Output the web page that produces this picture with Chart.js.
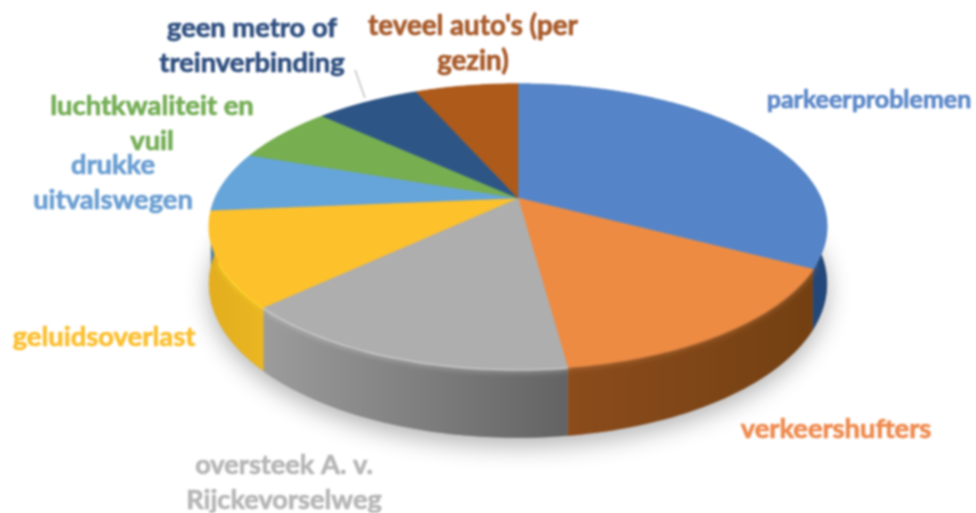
<!DOCTYPE html>
<html><head><meta charset="utf-8">
<style>html,body{margin:0;padding:0;background:#fff;overflow:hidden}canvas{display:block;filter:blur(0.8px)}</style>
<script src="https://cdn.jsdelivr.net/npm/chart.js@4"></script>
</head><body><canvas id="c" width="976" height="513"></canvas>
<script>
const categories = ["parkeerproblemen","verkeershufters","oversteek A. v. Rijckevorselweg","geluidsoverlast","drukke uitvalswegen","luchtkwaliteit en vuil","geen metro of treinverbinding","teveel auto's (per gezin)"];
const shares = [32.8,15.1,15.0,10.7,6.8,6.5,6.6,6.5];
const faceColors = ["#5585c8","#ee8b43","#aeaeae","#fdc12b","#66a5da","#76ae50","#2d5687","#ad5a1b"];
const wallLeft = ["#2a5288","#8c4c1c","#9c9c9c","#e3ae1f","#4d7ea8","#5a8a3e","#24466e","#8a4716"];
const wallRight = ["#24477a","#734012","#636363","#eab622","#4d7ea8","#5a8a3e","#24466e","#8a4716"];
const rimColors = ["#3f6aa5","#b8703a","#cfcfcf","#ffd62e","#66a5da","#76ae50","#2d5687","#ad5a1b"];
const labelLines = [["parkeerproblemen"],["verkeershufters"],["oversteek A. v.","Rijckevorselweg"],["geluidsoverlast"],["drukke","uitvalswegen"],["luchtkwaliteit en","vuil"],["geen metro of","treinverbinding"],["teveel auto's (per","gezin)"]];
const labelColors = ["#5b87c8","#ee8a4e","#b6b6b6","#fbbf2f","#6a9ed2","#74ad55","#2f4f80","#a85a2a"];
const labelSizes = [25,27.3,27.2,27.4,27.3,27.4,27.3,27.7];
const labelAnchors = [[869,100],[836,429],[284,465],[104,337],[113,165],[152,106],[252,28],[473,26]];
const labelLineHeight = 35;
const leaderLine = [[355,70],[365,98]];

const P = 0.199, SX = 1.53, SY = 0.692, DEPTH = 0.278;
const pieStyle = {
  id:'pieStyle',
  beforeDatasetDraw(){ return false; },
  afterDatasetsDraw(chart){
    const ctx = chart.ctx, arcs = chart.getDatasetMeta(0).data;
    const a0 = arcs[0], R = a0.outerRadius, cx = a0.x, cy = a0.y;
    const proj = (a,d) => {
      const x=Math.cos(a), y=Math.sin(a), s=1/(1-P*y);
      return [cx+R*SX*x*s, cy+R*SY*y*s+(d?R*DEPTH*s:0)];
    };
    const trace = (from,to,d,first) => {
      const n=Math.max(2,Math.ceil(Math.abs(to-from)/0.02));
      for(let i=0;i<=n;i++){
        const p=proj(from+(to-from)*i/n,d);
        (i===0&&first)?ctx.moveTo(p[0],p[1]):ctx.lineTo(p[0],p[1]);
      }
    };
    ctx.save();
    // soft ground shadow
    ctx.save();
    ctx.shadowColor='rgba(0,0,0,0.3)';ctx.shadowBlur=24;ctx.shadowOffsetY=8;ctx.fillStyle='#999';
    ctx.beginPath();trace(0,Math.PI*2,true,true);ctx.closePath();ctx.fill();
    ctx.restore();
    // walls
    arcs.forEach((arc,i)=>{
      const a=arc.startAngle,b=arc.endAngle;
      const p1=proj(a,true),p2=proj(b,true);
      const g=ctx.createLinearGradient(Math.min(p1[0],p2[0]),0,Math.max(p1[0],p2[0])+0.01,0);
      g.addColorStop(0,wallLeft[i]);g.addColorStop(1,wallRight[i]);
      ctx.fillStyle=g;
      ctx.beginPath();trace(a,b,false,true);trace(b,a,true,false);ctx.closePath();ctx.fill();
    });
    // soft rims on the near side only
    arcs.forEach((arc,i)=>{
      const n=Math.ceil((arc.endAngle-arc.startAngle)/0.02);
      ctx.save();
      ctx.shadowColor=rimColors[i];ctx.shadowBlur=6;ctx.strokeStyle=rimColors[i];ctx.lineWidth=3;
      ctx.beginPath();
      for(let k=0,on=false;k<=n;k++){
        const a=arc.startAngle+(arc.endAngle-arc.startAngle)*k/n;
        if(Math.sin(a)<0.42) continue;
        const p=proj(a,false);
        on?ctx.lineTo(p[0],p[1]):ctx.moveTo(p[0],p[1]);on=true;
      }
      ctx.stroke();
      ctx.restore();
    });
    // top faces
    arcs.forEach((arc,i)=>{
      ctx.fillStyle=faceColors[i];ctx.strokeStyle=faceColors[i];ctx.lineWidth=0.6;
      ctx.beginPath();ctx.moveTo(cx,cy);trace(arc.startAngle,arc.endAngle,false,false);ctx.closePath();ctx.fill();ctx.stroke();
    });
    // leader
    ctx.strokeStyle='#b5b5b5';ctx.lineWidth=1.2;
    ctx.beginPath();ctx.moveTo(leaderLine[0][0],leaderLine[0][1]);ctx.lineTo(leaderLine[1][0],leaderLine[1][1]);ctx.stroke();
    // labels
    ctx.textAlign='center';ctx.textBaseline='middle';ctx.lineJoin='round';
    labelLines.forEach((lines,i)=>{
      ctx.font='bold '+labelSizes[i]+'px Lato';
      ctx.fillStyle=labelColors[i];ctx.strokeStyle=labelColors[i];ctx.lineWidth=0.7;
      lines.forEach((t,j)=>{
        const y=labelAnchors[i][1]+j*labelLineHeight;
        ctx.strokeText(t,labelAnchors[i][0],y);
        ctx.fillText(t,labelAnchors[i][0],y);
      });
    });
    ctx.restore();
  }
};
new Chart(document.getElementById('c'),{
  type:'pie',
  data:{labels:categories,datasets:[{data:shares,backgroundColor:faceColors,borderWidth:0}]},
  options:{responsive:false,animation:false,events:[],
    layout:{padding:{left:60,bottom:117,top:0,right:0}},
    plugins:{legend:{display:false},tooltip:{enabled:false}}},
  plugins:[pieStyle]
});
</script></body></html>
